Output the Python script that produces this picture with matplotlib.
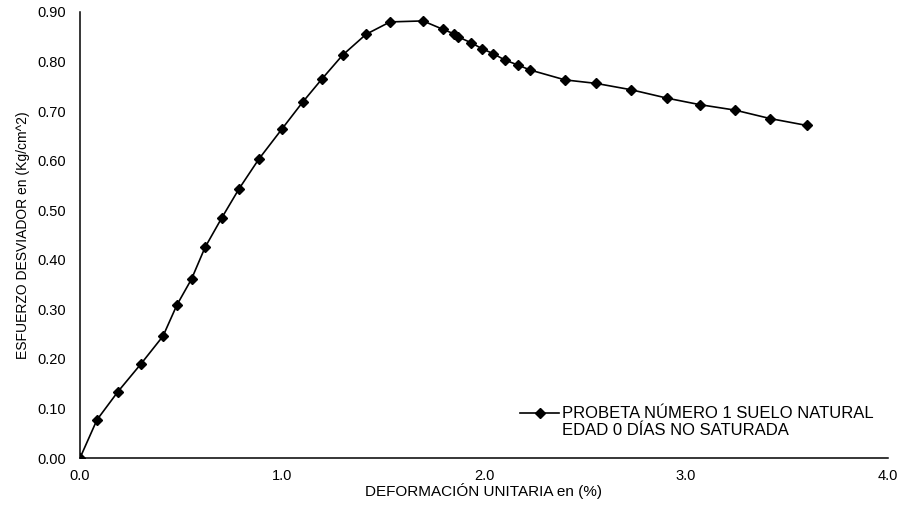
import matplotlib
matplotlib.use("Agg")
import matplotlib.pyplot as plt
from matplotlib.ticker import FormatStrFormatter

plt.rcParams['font.family'] = ['Liberation Sans', 'DejaVu Sans']

# datos
deformacion = [0.0, 0.084, 0.188, 0.302, 0.411, 0.480, 0.552, 0.619, 0.701, 0.787,
               0.885, 0.998, 1.102, 1.198, 1.300, 1.416, 1.535, 1.698, 1.797, 1.851,
               1.871, 1.936, 1.990, 2.045, 2.104, 2.168, 2.228, 2.401, 2.554, 2.730,
               2.908, 3.069, 3.243, 3.416, 3.599]
esfuerzo = [0.0, 0.077, 0.134, 0.190, 0.246, 0.309, 0.361, 0.425, 0.484, 0.543,
            0.603, 0.663, 0.718, 0.765, 0.813, 0.855, 0.880, 0.882, 0.865, 0.856,
            0.850, 0.838, 0.826, 0.816, 0.803, 0.793, 0.783, 0.763, 0.756, 0.743,
            0.726, 0.713, 0.702, 0.685, 0.671]
etiqueta = ['PROBETA NÚMERO 1 SUELO NATURAL', 'EDAD 0 DÍAS NO SATURADA']

fig = plt.figure(figsize=(9.16, 5.05), dpi=100)
ax = fig.add_axes([80 / 916, 47 / 505, 808 / 916, 446 / 505])

ax.plot(deformacion, esfuerzo, color='black', linewidth=1.2,
        marker='D', markersize=5.5, label=etiqueta[0])
# segunda linea de la leyenda, sin simbolo
ax.plot([], [], linestyle='none', label=etiqueta[1])

ax.set_xlim(0, 4.0)
ax.set_ylim(0, 0.90)
ax.set_xticks([0.0, 1.0, 2.0, 3.0, 4.0])
ax.set_yticks([i / 10 for i in range(10)])
ax.xaxis.set_major_formatter(FormatStrFormatter('%.1f'))
ax.yaxis.set_major_formatter(FormatStrFormatter('%.2f'))
ax.tick_params(axis='both', length=0, labelsize=10.5)
ax.tick_params(axis='x', pad=8)
ax.tick_params(axis='y', pad=10)

for s in ['top', 'right']:
    ax.spines[s].set_visible(False)
for s in ['left', 'bottom']:
    ax.spines[s].set_linewidth(1.1)
    ax.spines[s].set_color('black')

ax.set_xlabel('DEFORMACIÓN UNITARIA en (%)', fontsize=11, labelpad=0)
ax.set_ylabel('ESFUERZO DESVIADOR en (Kg/cm^2)', fontsize=10, labelpad=5)

ax.legend(loc='upper left', bbox_to_anchor=(512 / 916, 1 - 398 / 505),
          bbox_transform=fig.transFigure, frameon=False, fontsize=12,
          handlelength=2.3, handletextpad=0.2, borderpad=0, labelspacing=0.1)

fig.savefig('out.png', dpi=100)
